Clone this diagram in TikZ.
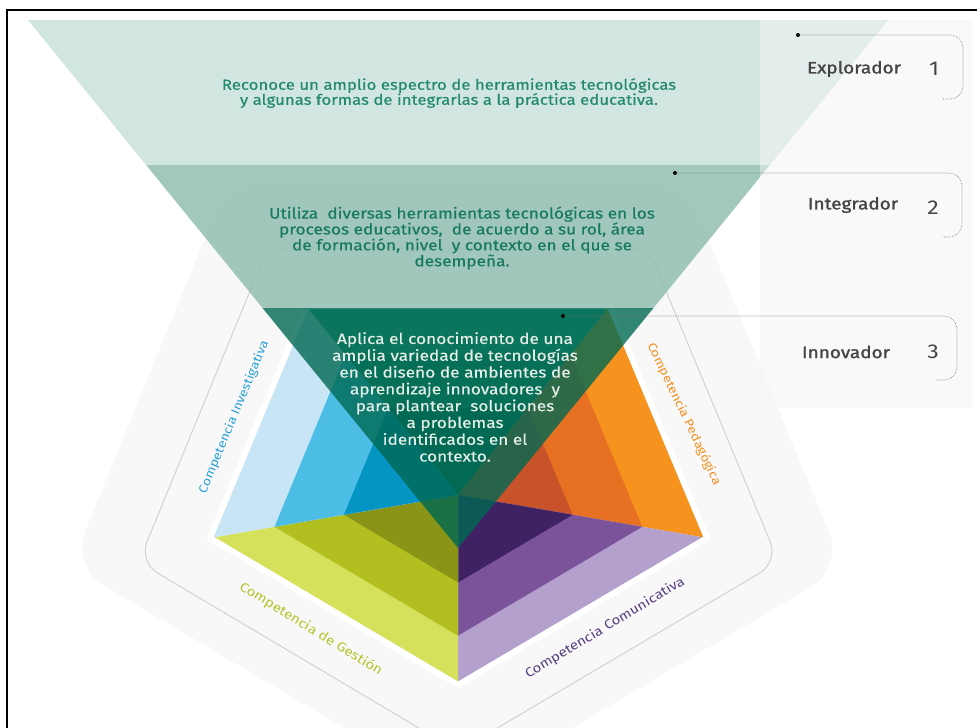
\documentclass[tikz,border=0pt]{standalone}
\usepackage{fontspec}
\setmainfont{Fira Sans}[FakeStretch=1.15]
\newfontfamily\medfont{Fira Sans}[FakeStretch=1.15, FakeBold=0.45]
\newfontfamily\lblfont{Fira Sans}[FakeStretch=1.15, FakeBold=1.4]
\usetikzlibrary{calc}
\definecolor{pentfill}{RGB}{248,248,248}
\definecolor{pentline}{RGB}{210,210,210}
\definecolor{bOne}{RGB}{210,230,225}
\definecolor{bTwo}{RGB}{146,191,178}
\definecolor{bThree}{RGB}{0,105,82}
\definecolor{blueA}{RGB}{200,229,245}
\definecolor{blueB}{RGB}{76,190,230}
\definecolor{blueC}{RGB}{4,149,196}
\definecolor{greenA}{RGB}{213,224,91}
\definecolor{greenB}{RGB}{177,191,32}
\definecolor{greenC}{RGB}{138,149,23}
\definecolor{purpA}{RGB}{179,160,204}
\definecolor{purpB}{RGB}{122,83,155}
\definecolor{purpC}{RGB}{62,34,100}
\definecolor{oranA}{RGB}{245,147,30}
\definecolor{oranB}{RGB}{232,112,34}
\definecolor{oranC}{RGB}{200,82,42}
\definecolor{topA}{RGB}{58,164,138}
\definecolor{topB}{RGB}{29,138,114}
\definecolor{topC}{RGB}{13,110,92}
\definecolor{txtOne}{RGB}{35,137,111}
\definecolor{txtTwo}{RGB}{23,122,95}
\definecolor{txtThree}{RGB}{228,238,230}
\definecolor{lvlgray}{RGB}{68,68,68}
\definecolor{compblue}{RGB}{42,160,214}
\definecolor{comporange}{RGB}{243,144,32}
\definecolor{compgreen}{RGB}{181,196,42}
\definecolor{comppurple}{RGB}{90,63,128}
\newcommand\mysector[5]{%
  \fill[#3] (C) -- (#1) -- (#2) -- cycle;
  \fill[#4] (C) -- ($(C)!0.74!(#1)$) -- ($(C)!0.74!(#2)$) -- cycle;
  \fill[#5] (C) -- ($(C)!0.46!(#1)$) -- ($(C)!0.46!(#2)$) -- cycle;}
\begin{document}
\begin{tikzpicture}[x=1pt,y=-1pt,
  comp/.style={font=\fontsize{13}{14}\selectfont, inner sep=0pt},
  lvl/.style={font=\lblfont\fontsize{16.5}{17}\selectfont, text=lvlgray, inner sep=0pt},
  num/.style={font=\fontsize{20}{22}\selectfont, text=lvlgray, inner sep=0pt},
  leader/.style={densely dotted, draw=black!55, line width=0.6pt, rounded corners=13},
  dotmark/.style={circle, fill=black, inner sep=0pt, minimum size=4pt},
  bandtext/.style={align=center, inner sep=0pt}]
\useasboundingbox (0,0) rectangle (977,728);
\fill[white] (0,0) rectangle (977,728);
% background pentagon
\fill[pentfill, rounded corners=38] (226.7,185) -- (685.7,185) -- (843.7,567.7) -- (458,795) -- (71,566) -- cycle;
\draw[pentline, line width=1pt, rounded corners=22] (267.7,248) -- (648.1,248) -- (778.6,561.9) -- (458,751.2) -- (138.7,561.9) -- cycle;
% colored pentagon
\coordinate (C) at (458,495);
\coordinate (TL) at (306,306);
\coordinate (TR) at (610,306);
\coordinate (R) at (707,538);
\coordinate (B) at (458,685);
\coordinate (L) at (210,538);
\mysector{TL}{TR}{topA}{topB}{topC}
\mysector{TR}{R}{oranA}{oranB}{oranC}
\mysector{R}{B}{purpA}{purpB}{purpC}
\mysector{B}{L}{greenA}{greenB}{greenC}
\mysector{L}{TL}{blueA}{blueB}{blueC}
\draw[white, line width=6pt, line join=round] (TL) -- (TR) -- (R) -- (B) -- (L) -- cycle;
% competency labels
\node[comp, text=compblue, rotate=67.5, font=\fontsize{12}{13}\selectfont] (ci) at (234,417) {Competencia Investigativa};
\node[comp, text=comporange, rotate=-64.5, font=\fontsize{12}{13}\selectfont] (cp) at (684,414) {Competencia Pedagógica};
\node[comp, text=compgreen, rotate=-31.5] (cg) at (311,629) {Competencia de Gestión};
\node[comp, text=comppurple, rotate=31] (cc) at (605,628) {Competencia Comunicativa};
% funnel
\fill[bOne] (28,20) -- (888,20) -- (769.9,165) -- (146.1,165) -- cycle;
\fill[bTwo, opacity=0.85] (146.1,165) -- (769.9,165) -- (653.5,308) -- (262.5,308) -- cycle;
\fill[bThree, opacity=0.8] (262.5,308) -- (653.5,308) -- (458,548) -- cycle;
% right panel
\fill[black!4, opacity=0.5] (760,20) rectangle (972,408);
% leaders
\node[dotmark] (d1) at (798,35) {};
\node[dotmark] (d2) at (675,173) {};
\node[dotmark] (d3) at (563,316) {};
\coordinate (k1) at (963,35); \coordinate (e1) at (942,99);
\coordinate (k2) at (962,173); \coordinate (e2) at (942,237);
\coordinate (k3) at (957,316); \coordinate (e3) at (935,380);
\draw[leader] (d1.center) -- (k1) -- (k1 |- e1) -- (e1);
\draw[leader] (d2.center) -- (k2) -- (k2 |- e2) -- (e2);
\draw[leader] (d3.center) -- (k3) -- (k3 |- e3) -- (e3);
\node[lvl] (l1) at (854,69) {Explorador};
\node[num] (n1) at (934,69) {1};
\node[lvl] (l2) at (853,205) {Integrador};
\node[num] (n2) at (933,208) {2};
\node[lvl] (l3) at (846,352) {Innovador};
\node[num] (n3) at (933,352) {3};
% band texts
\node[bandtext, text=txtOne, font=\medfont\fontsize{14.6}{15}\selectfont] (t1) at (449,93)
  {Reconoce un amplio espectro de herramientas tecnológicas\\y algunas formas de integrarlas a la práctica educativa.};
\node[bandtext, text=txtTwo, font=\medfont\fontsize{15}{15.9}\selectfont] (t2) at (462,238)
  {Utiliza\ \ diversas herramientas tecnológicas en los\\procesos educativos,\ \ de acuerdo a su rol, área\\de formación, nivel\ \ y contexto en el que se\\desempeña.};
\node[bandtext, text=txtThree, font=\medfont\fontsize{15}{16.8}\selectfont] (t3) at (455,397)
  {Aplica el conocimiento de una\\amplia variedad de tecnologías\\en el diseño de ambientes de\\aprendizaje innovadores\ \ y\\para plantear\ \ soluciones\\a problemas\\identificados en el\\contexto.};
% frame
\draw[line width=2.5pt] (7,728) -- (7,10) -- (977,10);
\end{tikzpicture}
\end{document}
